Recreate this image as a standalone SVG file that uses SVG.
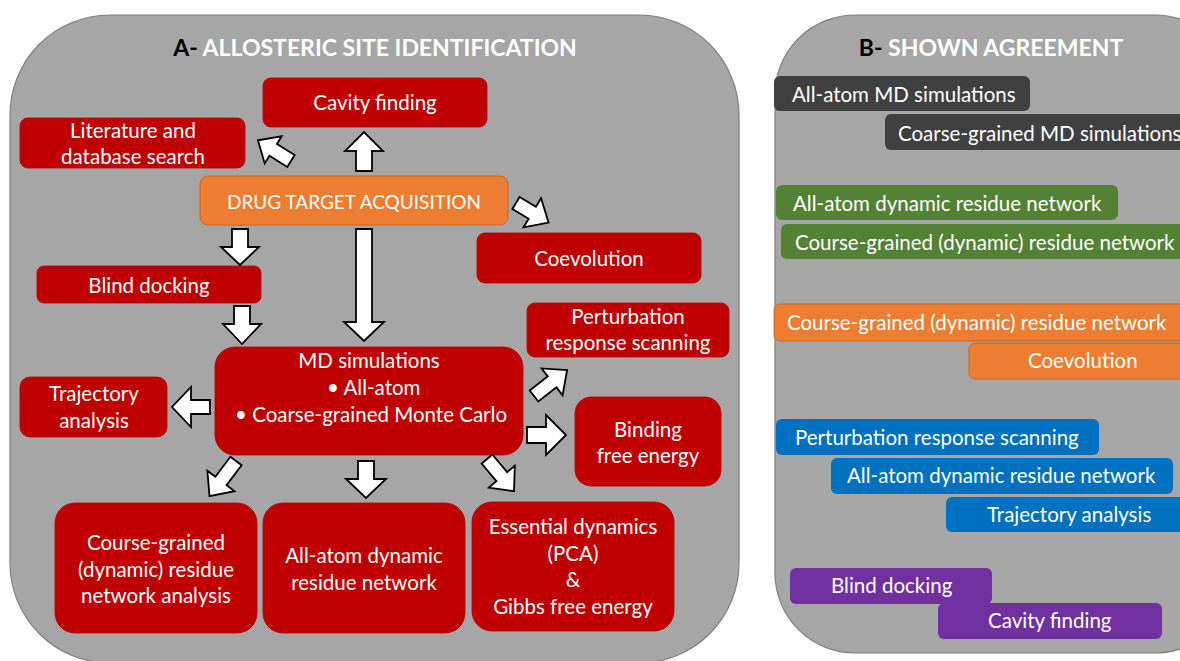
<svg xmlns="http://www.w3.org/2000/svg" width="1180" height="661" viewBox="0 0 1180 661">
<style>
.panel{fill:#A6A6A6;stroke:#7F7F7F;stroke-width:1.2}
.red{fill:#C00000;stroke:#B00000;stroke-width:0.8}
.t{font-family:Lato,"Liberation Sans",sans-serif;font-size:20.5px;fill:#FFFFFF;text-anchor:middle}
.tl{font-family:Lato,"Liberation Sans",sans-serif;font-size:20.5px;fill:#FFFFFF}
.title{font-family:Lato,"Liberation Sans",sans-serif;font-size:23px;font-weight:bold;fill:#FFFFFF;text-anchor:middle}
.arr{fill:#FFFFFF;stroke:#000000;stroke-width:1.8;stroke-linejoin:miter}
.dk{fill:#404040}
.gr{fill:#548235}
.or{fill:#ED7D31;stroke:#C55A11;stroke-width:0.8}
.bl{fill:#0070C0}
.pu{fill:#7030A0}
</style>
<rect width="1180" height="661" fill="#FFFFFF"/>
<g id="panelA">
<rect class="panel" x="10" y="15" width="729" height="648" rx="100" ry="100"/>
<text class="title" x="375" y="56"><tspan fill="#000000">A- </tspan>ALLOSTERIC SITE IDENTIFICATION</text>
</g>
<g id="panelB">
<rect class="panel" x="775" y="15" width="460" height="638" rx="80" ry="80"/>
<text class="title" x="991" y="56"><tspan fill="#000000">B- </tspan>SHOWN AGREEMENT</text>
</g>
<g id="cavity"><rect class="red" x="263" y="78" width="224" height="49" rx="8"/><text class="t" x="375" y="110">Cavity finding</text></g>
<g id="literature"><rect class="red" x="20" y="118" width="225" height="50" rx="8"/><text class="t" x="133" y="138">Literature and</text><text class="t" x="133" y="164">database search</text></g>
<g id="drug"><rect class="or" x="200" y="176" width="308" height="49" rx="8"/><text class="t" x="354" y="209" style="font-size:19px">DRUG TARGET ACQUISITION</text></g>
<g id="coevolution"><rect class="red" x="477" y="233" width="224" height="50" rx="8"/><text class="t" x="589" y="266">Coevolution</text></g>
<g id="blind"><rect class="red" x="37" y="266" width="224" height="37" rx="7"/><text class="t" x="149" y="293">Blind docking</text></g>
<g id="perturbation"><rect class="red" x="527" y="303" width="202" height="54" rx="8"/><text class="t" x="628" y="324">Perturbation</text><text class="t" x="628" y="350">response scanning</text></g>
<g id="md"><rect class="red" x="215" y="347" width="308" height="108" rx="20"/><text class="t" x="369" y="368">MD simulations</text><text class="tl" x="327" y="395">• All-atom</text><text class="tl" x="235" y="422">•  Coarse-grained Monte Carlo</text></g>
<g id="trajectory"><rect class="red" x="20" y="377" width="147" height="60" rx="10"/><text class="t" x="94" y="401">Trajectory</text><text class="t" x="94" y="428">analysis</text></g>
<g id="binding"><rect class="red" x="575" y="397" width="146" height="89" rx="16"/><text class="t" x="648" y="437">Binding</text><text class="t" x="648" y="463">free energy</text></g>
<g id="cg"><rect class="red" x="55" y="503" width="202" height="130" rx="20"/><text class="t" x="156" y="550">Course-grained</text><text class="t" x="156" y="577">(dynamic) residue</text><text class="t" x="156" y="603">network analysis</text></g>
<g id="aa"><rect class="red" x="263" y="503" width="202" height="130" rx="20"/><text class="t" x="364" y="563">All-atom dynamic</text><text class="t" x="364" y="590">residue network</text></g>
<g id="essential"><rect class="red" x="472" y="502" width="202" height="129" rx="20"/><text class="t" x="573" y="534">Essential dynamics</text><text class="t" x="573" y="561">(PCA)</text><text class="t" x="573" y="587">&amp;</text><text class="t" x="573" y="614">Gibbs free energy</text></g>
<g id="connectors">
<polygon class="arr" transform="translate(291,161) rotate(212)" points="0,-7 21,-7 21,-16 39,0 21,16 21,7 0,7"/>
<polygon class="arr" transform="translate(364,171) rotate(-90)" points="0,-8 20,-8 20,-19 39,0 20,19 20,8 0,8"/>
<polygon class="arr" transform="translate(516,203) rotate(31)" points="0,-7 19,-7 19,-17 38,0 19,17 19,7 0,7"/>
<polygon class="arr" transform="translate(240,229) rotate(90)" points="0,-8 18,-8 18,-19 36,0 18,19 18,8 0,8"/>
<polygon class="arr" transform="translate(364,229) rotate(90)" points="0,-8 93,-8 93,-20 112,0 93,20 93,8 0,8"/>
<polygon class="arr" transform="translate(242,306) rotate(90)" points="0,-8 18,-8 18,-19 38,0 18,19 18,8 0,8"/>
<polygon class="arr" transform="translate(210,407) rotate(180)" points="0,-7 19,-7 19,-20 38,0 19,20 19,7 0,7"/>
<polygon class="arr" transform="translate(534,396) rotate(-38)" points="0,-7 23,-7 23,-17 42,0 23,17 23,7 0,7"/>
<polygon class="arr" transform="translate(527,435) rotate(0)" points="0,-8 19,-8 19,-20 39,0 19,20 19,8 0,8"/>
<polygon class="arr" transform="translate(236,461) rotate(127)" points="0,-7 25,-7 25,-17 44,0 25,17 25,7 0,7"/>
<polygon class="arr" transform="translate(366,461) rotate(90)" points="0,-8 18,-8 18,-20 37,0 18,20 18,8 0,8"/>
<polygon class="arr" transform="translate(487,459) rotate(50)" points="0,-7 23,-7 23,-17 42,0 23,17 23,7 0,7"/>
</g>
<g id="b-aamd"><rect class="dk" x="774" y="76" width="256" height="35" rx="6"/><text class="tl" x="792" y="102">All-atom MD simulations</text></g>
<g id="b-cgmd"><rect class="dk" x="885" y="114" width="310" height="36" rx="6"/><text class="tl" x="898" y="141">Coarse-grained MD simulations</text></g>
<g id="b-aadrn-g"><rect class="gr" x="776" y="185" width="342" height="35" rx="6"/><text class="tl" x="793" y="211">All-atom dynamic residue network</text></g>
<g id="b-cgrn-g"><rect class="gr" x="781" y="224" width="415" height="35" rx="6"/><text class="tl" x="795" y="250">Course-grained (dynamic) residue network</text></g>
<g id="b-cgrn-o"><rect class="or" x="774" y="304" width="420" height="37" rx="6"/><text class="tl" x="787" y="330">Course-grained (dynamic) residue network</text></g>
<g id="b-coev"><rect class="or" x="969" y="343" width="225" height="36" rx="6"/><text class="tl" x="1028" y="368">Coevolution</text></g>
<g id="b-prs"><rect class="bl" x="776" y="419" width="323" height="36" rx="6"/><text class="tl" x="795" y="445">Perturbation response scanning</text></g>
<g id="b-aadrn-b"><rect class="bl" x="831" y="458" width="342" height="36" rx="6"/><text class="tl" x="847" y="483">All-atom dynamic residue network</text></g>
<g id="b-traj"><rect class="bl" x="946" y="497" width="250" height="35" rx="6"/><text class="tl" x="987" y="522">Trajectory analysis</text></g>
<g id="b-blind"><rect class="pu" x="790" y="568" width="202" height="36" rx="6"/><text class="tl" x="831" y="593">Blind docking</text></g>
<g id="b-cav"><rect class="pu" x="938" y="603" width="224" height="36" rx="6"/><text class="tl" x="988" y="628">Cavity finding</text></g>
</svg>
